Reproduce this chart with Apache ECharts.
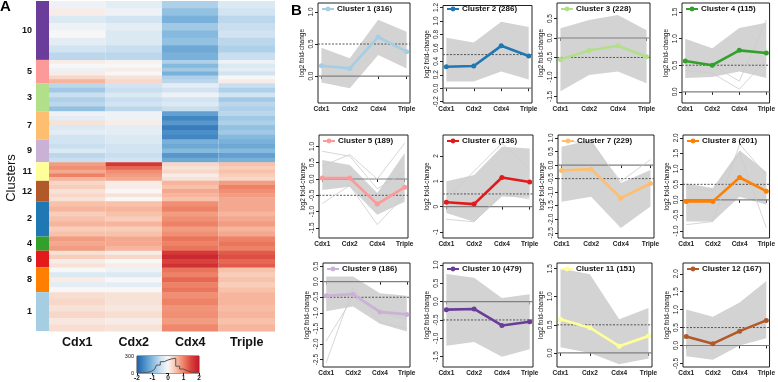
<!DOCTYPE html>
<html><head><meta charset="utf-8">
<script src="https://cdn.jsdelivr.net/npm/echarts@6/dist/echarts.min.js"></script>
<style>html,body{margin:0;padding:0;background:#fff}#c{width:778px;height:382px}</style>
</head><body><div id="c"></div>
<script>
// ---------------- DATA ----------------
const samples = ['Cdx1', 'Cdx2', 'Cdx4', 'Triple'];
const heatOrder = [10, 5, 3, 7, 9, 11, 12, 2, 4, 6, 8, 1];
const clusterCounts = [316, 286, 228, 115, 189, 136, 229, 201, 186, 479, 151, 167];
const clusterColors = ['#a6cee3', '#1f78b4', '#b2df8a', '#33a02c', '#fb9a99', '#e31a1c',
  '#fdbf6f', '#ff7f00', '#cab2d6', '#6a3d9a', '#ffff99', '#b15928'];

// mean profile per cluster (Cdx1, Cdx2, Cdx4, Triple)
const meanProfiles = [
  [0.16, 0.12, 0.61, 0.38],
  [0.32, 0.33, 0.63, 0.48],
  [-0.55, -0.32, -0.2, -0.48],
  [0.58, 0.5, 0.78, 0.73],
  [0.03, 0.03, -0.77, -0.25],
  [0.17, 0.1, 1.15, 0.97],
  [-0.2, -0.15, -1.22, -0.68],
  [-0.05, -0.05, 0.72, 0.28],
  [-0.45, -0.4, -0.97, -1.05],
  [-0.22, -0.2, -0.65, -0.55],
  [0.6, 0.45, 0.12, 0.3],
  [0.25, 0.05, 0.4, 0.7]
];
// envelope of the member profiles
const bandLow = [
  [-0.1, -0.19, 0.33, 0.12],
  [0.1, 0.1, 0.25, 0.13],
  [-1.37, -0.95, -0.86, -1.16],
  [0.26, 0.28, 0.38, 0.26],
  [-0.34, -0.24, -1.1, -0.7],
  [-0.25, -0.6, 0.4, 0.35],
  [-1.35, -1.17, -2.32, -1.53],
  [-0.7, -0.7, 0.1, -0.16],
  [-0.95, -0.8, -1.35, -1.6],
  [-1.2, -1.1, -1.5, -1.3],
  [0.1, 0.0, -0.2, -0.1],
  [-0.3, -0.4, 0.0, 0.2]
];
const bandHigh = [
  [0.44, 0.28, 0.88, 0.69],
  [0.75, 0.68, 0.99, 0.91],
  [0.25, 0.46, 0.59, 0.2],
  [1.0, 0.82, 1.2, 1.3],
  [0.58, 0.43, -0.43, 0.8],
  [1.0, 1.25, 2.37, 2.3],
  [0.68, 0.93, -0.66, -0.18],
  [0.53, 0.38, 1.6, 0.9],
  [0.17, 0.17, -0.37, -0.45],
  [0.75, 0.65, 0.1, 0.2],
  [1.5, 1.4, 0.6, 0.8],
  [1.0, 0.8, 1.2, 1.8]
];
// a few stray member profiles outside the envelope
const outlierLines = [
  [], [], [],
  [[0.4, 0.35, 0.05, 0.6], [0.6, 0.5, 0.2, 1.35]],
  [[0.85, 0.7, -0.3, 0.2], [-0.75, -0.2, -1.4, -0.5], [0.4, 0.75, 0.0, 1.1]],
  [[0.3, 1.4, 2.5, 1.5], [-0.5, -0.6, 0.5, 0.3]],
  [[0.9, 0.8, -0.6, 0.2]],
  [[-0.8, -0.7, 1.8, 0.8], [0.4, 0.3, 1.5, -0.9]],
  [[-2.6, -0.2, -1.3, -1.5], [-1.9, -0.5, -1.0, -1.2]],
  [], [], []
];
const yRanges = [
  [-0.42, 1.14], [-0.22, 1.23], [-1.67, 0.9], [-0.21, 1.67],
  [-1.81, 1.35], [-1.24, 2.83], [-2.69, 1.11], [-1.23, 2.09],
  [-2.74, 0.6], [-1.78, 1.05], [-0.25, 1.6], [-0.6, 2.3]
];
const yTicks = [
  [0, 0.5, 1.0], [-0.2, 0, 0.2, 0.4, 0.6, 0.8, 1.0, 1.2], [-1.5, -1.0, -0.5, 0, 0.5], [0, 0.5, 1.0, 1.5],
  [-1.5, -1.0, -0.5, 0, 0.5, 1.0], [-1, 0, 1, 2], [-2.5, -2.0, -1.5, -1.0, -0.5, 0, 0.5, 1.0], [-1.0, -0.5, 0, 0.5, 1.0, 1.5, 2.0],
  [-2.5, -2.0, -1.5, -1.0, -0.5, 0, 0.5], [-1.5, -1.0, -0.5, 0, 0.5, 1.0], [0, 0.5, 1.0, 1.5], [-0.5, 0, 0.5, 1, 1.5, 2]
];
const yDecimals = [1, 1, 1, 1, 1, 0, 1, 1, 1, 1, 1, 1];
const cutoffs = [0.5, 0.5, -0.5, 0.5, -0.5, 0.5, -0.5, 0.5, -0.5, -0.5, 0.5, 0.5];

// heatmap stripes (top to bottom inside each cluster), values Cdx1, Cdx2, Cdx4, Triple
const heatStripes = {
  10: [[-0.1, -0.2, -0.7, -0.3], [0.1, -0.1, -0.9, -0.4], [-0.3, -0.4, -1.1, -0.6], [-0.1, -0.2, -0.8, -0.5],
       [0.0, -0.3, -1.0, -0.4], [-0.2, -0.3, -0.9, -0.6], [-0.4, -0.5, -1.2, -0.7], [-0.6, -0.6, -1.1, -0.5]],
  5: [[0.1, 0.05, -0.7, -0.1], [0.0, 0.0, -1.0, -0.3], [-0.1, 0.1, -0.8, -0.2], [0.1, 0.0, -1.1, -0.4], [0.3, 0.2, -0.7, 0.0], [0.6, 0.3, -0.6, 0.1]],
  3: [[-0.6, -0.4, -0.2, -0.5], [-0.8, -0.5, -0.4, -0.7], [-0.5, -0.3, -0.1, -0.4], [-0.7, -0.5, -0.4, -0.8], [-0.6, -0.4, -0.3, -0.6], [-0.9, -0.6, -0.5, -0.7]],
  7: [[-0.1, -0.1, -1.3, -0.6], [-0.2, -0.1, -1.6, -0.8], [0.2, 0.1, -1.4, -0.7], [-0.3, -0.2, -1.7, -0.9], [-0.2, -0.2, -1.5, -0.8], [-0.4, -0.3, -1.6, -1.0]],
  9: [[-0.4, -0.3, -1.1, -1.1], [-0.5, -0.4, -1.2, -1.2], [-0.3, -0.4, -1.0, -1.0], [-0.6, -0.5, -1.4, -1.3], [-0.5, -0.4, -1.2, -1.1]],
  11: [[0.8, 1.6, 0.3, 0.5], [0.9, 1.2, 0.2, 0.4], [0.7, 0.9, 0.3, 0.5], [1.0, 0.8, 0.1, 0.4], [0.6, 0.7, 0.2, 0.3]],
  12: [[0.3, 0.1, 0.6, 0.8], [0.4, 0.1, 0.5, 1.0], [0.2, 0.0, 0.7, 0.9], [0.3, 0.2, 0.6, 0.8], [0.2, 0.0, 0.5, 0.7]],
  2: [[0.5, 0.5, 0.9, 0.7], [0.6, 0.6, 1.0, 0.7], [0.4, 0.5, 0.8, 0.6], [0.5, 0.4, 0.9, 0.7], [0.6, 0.6, 1.0, 0.8], [0.4, 0.4, 0.8, 0.6], [0.5, 0.5, 0.9, 0.7]],
  4: [[0.8, 0.7, 1.1, 1.0], [0.7, 0.7, 1.0, 1.1], [0.8, 0.6, 1.1, 1.0]],
  6: [[0.2, 0.1, 1.6, 1.3], [0.4, 0.3, 1.8, 1.4], [0.1, 0.0, 1.5, 1.2], [0.2, 0.1, 1.7, 1.3]],
  8: [[0.0, -0.1, 1.1, 0.5], [-0.3, -0.3, 1.0, 0.4], [0.1, 0.0, 1.2, 0.5], [-0.2, -0.2, 1.0, 0.4], [0.0, 0.0, 1.1, 0.5]],
  1: [[0.25, 0.2, 0.9, 0.6], [0.3, 0.2, 1.0, 0.6], [0.2, 0.15, 0.85, 0.55], [0.3, 0.25, 0.9, 0.6], [0.15, 0.1, 0.8, 0.5], [0.25, 0.2, 0.95, 0.6]]
};
// colour-key histogram
const histCenters = [-1.875, -1.625, -1.375, -1.125, -0.875, -0.625, -0.375, -0.125, 0.125, 0.375, 0.625, 0.875, 1.125, 1.375, 1.625, 1.875];
const histCounts = [2, 5, 10, 25, 60, 140, 200, 230, 250, 260, 120, 70, 40, 20, 8, 3];
const colorbarTicks = [-2, -1, 0, 1, 2];
const histTicks = [0, 300];

// ---------------- STYLE / LAYOUT ----------------
const FONT = 'Liberation Sans, Arial, Helvetica, sans-serif';
const heatColors = ['#1d62a9', '#4b8fc8', '#86b9de', '#c9dff0', '#f7f7f7', '#f8c2aa', '#ee8266', '#d9413a', '#bf1a2b'];
const panelBoxes = [
  [318, 3, 410, 103], [443, 3, 532, 103], [557, 3, 650, 103], [682, 3, 771, 103],
  [319, 135, 408, 238], [443, 135, 533, 238], [558, 135, 654, 238], [683, 135, 773, 238],
  [323, 263, 410, 367], [443, 263, 533, 367], [557, 263, 652, 367], [683, 263, 773, 367]
];
const X_MIN = 0.88, X_MAX = 4.12;
const totalGenes = clusterCounts.reduce((a, b) => a + b, 0);

// cluster row spans
const clusterSpans = [];
let acc = 0;
heatOrder.forEach(c => {
  const n = clusterCounts[c - 1];
  clusterSpans.push([acc, acc + n, c]);
  acc += n;
});
const heatData = [];
clusterSpans.forEach(([s, e, c]) => {
  const rows = heatStripes[c];
  rows.forEach((row, k) => {
    const r0 = s + (e - s) * k / rows.length, r1 = s + (e - s) * (k + 1) / rows.length;
    row.forEach((v, j) => heatData.push([j, r0, r1, v]));
  });
});

const grid = [], xAxis = [], yAxis = [], series = [], legend = [];
// grid 0: heatmap
grid.push({left: 49, top: 1, width: 226, height: 330});
xAxis.push({type: 'value', gridIndex: 0, min: -0.5, max: 3.5,
  axisLine: {show: false}, axisTick: {show: false}, splitLine: {show: false},
  axisLabel: {customValues: [0, 1, 2, 3], formatter: v => samples[Math.round(v)], fontSize: 12.5, fontWeight: 'bold', color: '#111', fontFamily: FONT, margin: 5}});
yAxis.push({type: 'value', gridIndex: 0, min: 0, max: totalGenes, inverse: true, show: false});
// grid 1: cluster colour bar
grid.push({left: 36, top: 1, width: 13, height: 330});
xAxis.push({type: 'value', gridIndex: 1, min: 0, max: 1, show: false});
yAxis.push({type: 'value', gridIndex: 1, min: 0, max: totalGenes, inverse: true, show: false});
// grid 2: colour key
grid.push({left: 137, top: 356, width: 62, height: 17, show: true, borderColor: '#111', borderWidth: 0.8});
xAxis.push({type: 'value', gridIndex: 2, min: -2, max: 2, splitLine: {show: false},
  axisLine: {show: false}, axisTick: {customValues: colorbarTicks, length: 2, lineStyle: {color: '#111'}},
  axisLabel: {customValues: colorbarTicks, fontSize: 6.5, fontWeight: 'bold', color: '#111', margin: 2, fontFamily: FONT}});
yAxis.push({type: 'value', gridIndex: 2, min: 0, max: 300, splitLine: {show: false},
  axisLine: {show: false}, axisTick: {customValues: histTicks, length: 2, lineStyle: {color: '#111'}},
  axisLabel: {customValues: histTicks, fontSize: 5.5, color: '#111', margin: 3, fontFamily: FONT}});

series.push({
  type: 'custom', xAxisIndex: 0, yAxisIndex: 0, data: heatData, silent: true,
  encode: {x: 0, y: [1, 2]},
  renderItem: (params, api) => {
    const p0 = api.coord([api.value(0) - 0.5, api.value(1)]);
    const p1 = api.coord([api.value(0) + 0.5, api.value(2)]);
    return {type: 'rect', shape: {x: p0[0], y: p0[1], width: p1[0] - p0[0], height: p1[1] - p0[1] + 0.6},
      style: {fill: api.visual('color')}};
  }
});
series.push({
  type: 'custom', xAxisIndex: 1, yAxisIndex: 1, data: clusterSpans, silent: true,
  encode: {y: [0, 1]},
  renderItem: (params, api) => {
    const c = api.value(2);
    const p0 = api.coord([0, api.value(0)]);
    const p1 = api.coord([1, api.value(1)]);
    return {type: 'group', children: [
      {type: 'rect', shape: {x: p0[0], y: p0[1], width: p1[0] - p0[0], height: p1[1] - p0[1]},
        style: {fill: clusterColors[c - 1]}},
      {type: 'text', style: {text: String(c), x: p0[0] - 4, y: (p0[1] + p1[1]) / 2, align: 'right', verticalAlign: 'middle',
        font: 'bold 9px ' + FONT, fill: '#111'}}
    ]};
  }
});
series.push({
  type: 'custom', xAxisIndex: 2, yAxisIndex: 2, data: [[colorbarTicks[0], colorbarTicks[colorbarTicks.length - 1]]], silent: true,
  renderItem: (params, api) => {
    const p0 = api.coord([api.value(0), histTicks[1]]);
    const p1 = api.coord([api.value(1), histTicks[0]]);
    const stops = heatColors.map((col, i) => ({offset: i / (heatColors.length - 1), color: col}));
    return {type: 'rect', shape: {x: p0[0], y: p0[1], width: p1[0] - p0[0], height: p1[1] - p0[1]},
      style: {fill: new echarts.graphic.LinearGradient(0, 0, 1, 0, stops)}};
  }
});
series.push({
  type: 'line', xAxisIndex: 2, yAxisIndex: 2, step: 'middle', symbol: 'none', silent: true,
  data: histCenters.map((c, i) => [c, histCounts[i]]),
  lineStyle: {color: '#555', width: 1}
});

// cluster panels
meanProfiles.forEach((prof, i) => {
  const gi = 3 + i;
  const [x1, y1, x2, y2] = panelBoxes[i];
  const name = 'Cluster ' + (i + 1) + ' (' + clusterCounts[i] + ')';
  grid.push({left: x1, top: y1, width: x2 - x1, height: y2 - y1, show: true, borderColor: '#222', borderWidth: 1});
  xAxis.push({type: 'value', gridIndex: gi, min: X_MIN, max: X_MAX, splitLine: {show: false},
    axisLine: {show: false},
    axisTick: {customValues: [1, 2, 3, 4], length: 3, lineStyle: {color: '#222'}},
    axisLabel: {customValues: [1, 2, 3, 4], formatter: v => samples[Math.round(v) - 1], fontSize: 6.5, fontWeight: 'bold',
      color: '#222', margin: 3, fontFamily: FONT}});
  yAxis.push({type: 'value', gridIndex: gi, min: yRanges[i][0], max: yRanges[i][1], splitLine: {show: false},
    axisLine: {show: false},
    axisTick: {customValues: yTicks[i], length: 3, lineStyle: {color: '#222'}},
    axisLabel: {customValues: yTicks[i], rotate: 90, fontSize: 6.5, color: '#222', margin: 3, fontFamily: FONT,
      formatter: v => v.toFixed(yDecimals[i])},
    name: 'log2 fold-change', nameLocation: 'middle', nameGap: 12, nameRotate: 90,
    nameTextStyle: {fontSize: 6.5, color: '#111', fontFamily: FONT}});
  const sIdx = i;
  series.push({
    type: 'custom', xAxisIndex: gi, yAxisIndex: gi, data: [[1, cutoffs[i]]], silent: true, z: 1,
    renderItem: (params, api) => {
      const pts = [];
      for (let k = 0; k < 4; k++) pts.push(api.coord([k + 1, bandHigh[sIdx][k]]));
      for (let k = 3; k >= 0; k--) pts.push(api.coord([k + 1, bandLow[sIdx][k]]));
      const z0 = api.coord([X_MIN, 0]), z1 = api.coord([X_MAX, 0]);
      const c0 = api.coord([X_MIN, cutoffs[sIdx]]), c1 = api.coord([X_MAX, cutoffs[sIdx]]);
      return {type: 'group', children: [
        {type: 'polygon', shape: {points: pts}, style: {fill: '#d3d3d3'}},
        {type: 'line', shape: {x1: z0[0], y1: z0[1], x2: z1[0], y2: z1[1]}, style: {stroke: '#808080', lineWidth: 1.2}},
        {type: 'line', shape: {x1: c0[0], y1: c0[1], x2: c1[0], y2: c1[1]}, style: {stroke: '#444', lineWidth: 0.9, lineDash: [2, 1.5]}}
      ]};
    }
  });
  outlierLines[i].forEach(ol => {
    series.push({type: 'line', xAxisIndex: gi, yAxisIndex: gi, symbol: 'none', silent: true, z: 2,
      data: ol.map((v, k) => [k + 1, v]), lineStyle: {color: '#cccccc', width: 0.8}});
  });
  series.push({
    name: name, type: 'line', xAxisIndex: gi, yAxisIndex: gi, z: 4, silent: true,
    data: prof.map((v, k) => [k + 1, v]),
    symbol: 'circle', symbolSize: 5, color: clusterColors[i],
    lineStyle: {color: clusterColors[i], width: 2.6}, itemStyle: {color: clusterColors[i]}
  });
  legend.push({data: [name], left: x1 + 3, top: y1 + 2, padding: 0, itemWidth: 12, itemHeight: 6, itemGap: 0,
    selectedMode: false, textStyle: {fontSize: 8, fontWeight: 'bold', color: '#111', fontFamily: FONT, padding: [0, 0, 0, -2]}});
});

const option = {
  animation: false,
  backgroundColor: '#fff',
  textStyle: {fontFamily: FONT},
  grid, xAxis, yAxis, series, legend,
  visualMap: {type: 'continuous', show: false, min: -2, max: 2, dimension: 3, seriesIndex: 0,
    inRange: {color: heatColors}},
  graphic: [
    {type: 'text', left: 0, top: -1, style: {text: 'A', font: 'bold 15px ' + FONT, fill: '#000'}},
    {type: 'text', left: 291, top: 3, style: {text: 'B', font: 'bold 15px ' + FONT, fill: '#000'}},
    {type: 'text', x: 11, y: 178, rotation: Math.PI / 2,
      style: {text: 'Clusters', font: '13px ' + FONT, fill: '#111', align: 'center', verticalAlign: 'middle'}}
  ]
};
const chart = echarts.init(document.getElementById('c'), null, {renderer: 'canvas'});
chart.setOption(option);
</script>
</body></html>
